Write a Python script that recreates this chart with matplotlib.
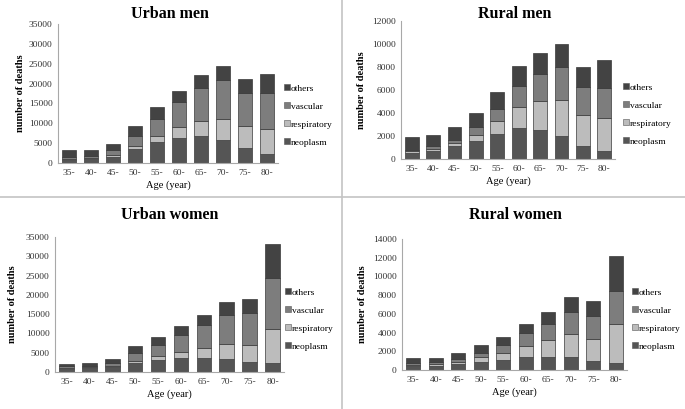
import matplotlib
matplotlib.use("Agg")
import matplotlib.pyplot as plt
import numpy as np
from matplotlib.lines import Line2D

ages = ["35-", "40-", "45-", "50-", "55-", "60-", "65-", "70-", "75-", "80-"]
causes = ["neoplasm", "respiratory", "vascular", "others"]

# deaths per cause
urban_men_neoplasm = [800, 900, 1600, 3500, 5200, 6350, 6700, 5850, 3850, 2350]
urban_men_respiratory = [200, 300, 300, 700, 1500, 2600, 4000, 5350, 5350, 6200]
urban_men_vascular = [500, 500, 1300, 2500, 4450, 6350, 8100, 9700, 8550, 9050]
urban_men_others = [1700, 1600, 1500, 2500, 2950, 2950, 3300, 3450, 3350, 4850]

rural_men_neoplasm = [520, 670, 1100, 1540, 2200, 2700, 2490, 2030, 1100, 720]
rural_men_respiratory = [150, 200, 290, 580, 1080, 1820, 2520, 3070, 2760, 2850]
rural_men_vascular = [140, 230, 290, 630, 1100, 1800, 2380, 2930, 2400, 2630]
rural_men_others = [1100, 990, 1070, 1250, 1480, 1770, 1830, 1970, 1710, 2440]

urban_women_neoplasm = [860, 950, 1210, 2250, 3020, 3540, 3720, 3280, 2590, 2420]
urban_women_respiratory = [260, 260, 350, 600, 1040, 1650, 2590, 3980, 4410, 8640]
urban_women_vascular = [350, 430, 860, 2160, 2940, 4320, 5790, 7600, 8380, 13400]
urban_women_others = [530, 610, 1040, 1730, 2070, 2330, 2680, 3290, 3460, 8730]

rural_women_neoplasm = [430, 460, 640, 890, 1070, 1420, 1420, 1350, 930, 780]
rural_women_respiratory = [100, 140, 180, 460, 710, 1180, 1790, 2500, 2380, 4100]
rural_women_vascular = [220, 290, 320, 500, 890, 1320, 1740, 2380, 2460, 3560]
rural_women_others = [500, 360, 640, 790, 860, 1030, 1210, 1610, 1600, 3780]

colours = {
    "neoplasm": "#555555",
    "respiratory": "#bcbcbc",
    "vascular": "#7d7d7d",
    "others": "#434343",
}

W, H = 685, 409


def px_axes(fig, left, top, right, bottom):
    return fig.add_axes([left / W, 1 - bottom / H, (right - left) / W, (bottom - top) / H])


def plotPanel(fig, box, title, data, ymax, ystep, legx, legy, title_xy, ypad=6):
    ax = px_axes(fig, *box)
    x = np.arange(len(ages))
    base = np.zeros(len(ages))
    for cause, vals in zip(causes, data):
        vals = np.array(vals, dtype=float)
        ax.bar(x, vals, 0.64, bottom=base, color=colours[cause],
               edgecolor="#3a3a3a", linewidth=0.5)
        base += vals
    ax.set_xlim(-0.5, 9.5)
    ax.set_ylim(0, ymax)
    ax.set_yticks(np.arange(0, ymax + 1, ystep))
    ax.set_xticks(x)
    ax.set_xticklabels(ages)
    ax.tick_params(axis="both", labelsize=6.8, length=0, colors="#333333", pad=4)
    for lab in ax.get_yticklabels() + ax.get_xticklabels():
        lab.set_fontfamily("Liberation Serif")
    for s in ["top", "right"]:
        ax.spines[s].set_visible(False)
    ax.spines["left"].set_color("#a8a8a8")
    ax.spines["bottom"].set_color("#a8a8a8")
    ax.set_xlabel("Age (year)", fontsize=7.5, family="Liberation Serif", labelpad=3)
    ax.set_ylabel("number of deaths", fontsize=7.5, family="Liberation Serif",
                  fontweight="bold", labelpad=ypad)
    fig.text(title_xy[0] / W, 1 - title_xy[1] / H, title, ha="center", va="center",
             fontsize=11.5, fontweight="bold", family="Liberation Serif")
    handles = [Line2D([], [], marker="s", linestyle="none", markersize=4.5,
                      markerfacecolor=colours[c], markeredgecolor="#555555",
                      markeredgewidth=0.4) for c in causes[::-1]]
    fig.legend(handles, causes[::-1], loc="upper left",
               bbox_to_anchor=(legx / W, 1 - legy / H), frameon=False,
               prop={"family": "Liberation Serif", "size": 6.8},
               handletextpad=0.05, handlelength=0.8, labelspacing=1.0,
               borderaxespad=0, borderpad=0)
    return ax


fig = plt.figure(figsize=(W / 100, H / 100), dpi=100)

plotPanel(fig, (58, 24, 278, 163), "Urban men",
          [urban_men_neoplasm, urban_men_respiratory, urban_men_vascular, urban_men_others],
          35000, 5000, 283, 84, (170, 14), ypad=3)
plotPanel(fig, (401, 21, 615, 159), "Rural men",
          [rural_men_neoplasm, rural_men_respiratory, rural_men_vascular, rural_men_others],
          12000, 2000, 622, 83, (515, 14), ypad=4)
plotPanel(fig, (55, 237, 284, 372), "Urban women",
          [urban_women_neoplasm, urban_women_respiratory, urban_women_vascular, urban_women_others],
          35000, 5000, 284, 288, (170, 215))
plotPanel(fig, (402, 239, 627, 370), "Rural women",
          [rural_women_neoplasm, rural_women_respiratory, rural_women_vascular, rural_women_others],
          14000, 2000, 631, 288, (515, 215), ypad=4)

# panel separators
fig.add_artist(Line2D([0, 1], [1 - 197 / H, 1 - 197 / H], color="#c4c4c4", linewidth=1.2))
fig.add_artist(Line2D([342 / W, 342 / W], [0, 1], color="#c4c4c4", linewidth=1.2))

fig.savefig("out.png", dpi=100)
